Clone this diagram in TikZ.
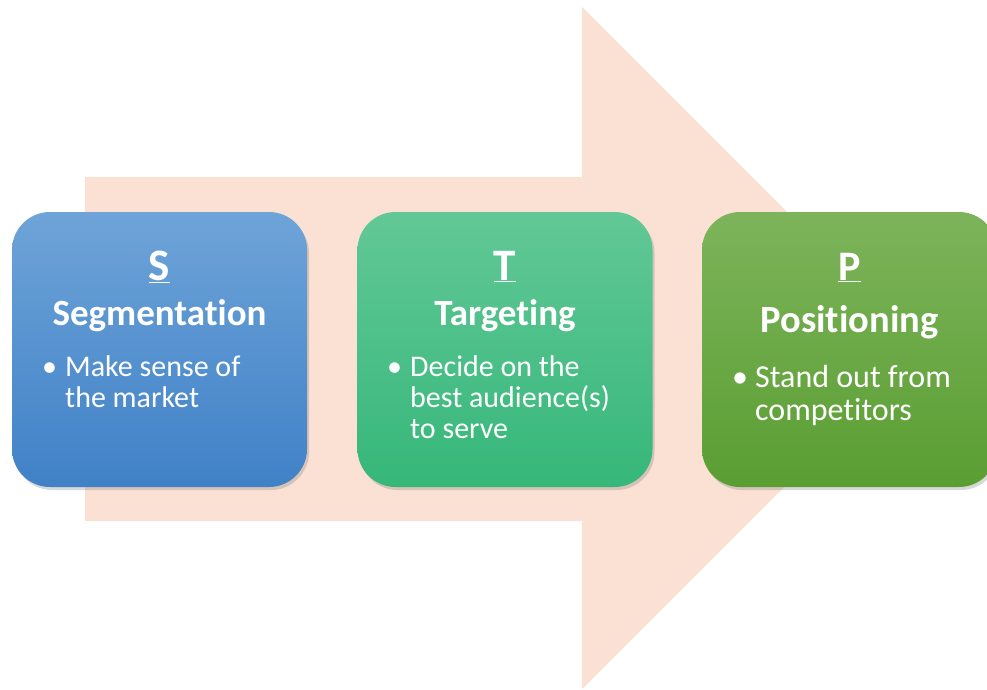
\documentclass[tikz,border=0pt]{standalone}
\usepackage{fontspec}
\setmainfont{Carlito}[Ligatures=NoCommon]
\usepackage{tikz}
\usetikzlibrary{shadows}

\definecolor{arrowpink}{RGB}{250,225,212}
\definecolor{segtop}{RGB}{110,164,216}
\definecolor{segbot}{RGB}{64,129,199}
\definecolor{tartop}{RGB}{98,200,150}
\definecolor{tarbot}{RGB}{54,183,122}
\definecolor{postop}{RGB}{125,180,91}
\definecolor{posbot}{RGB}{90,158,50}

\tikzset{
  stpbox/.style={rounded corners=38pt, minimum width=295pt, minimum height=275pt,
    drop shadow={shadow xshift=2pt, shadow yshift=-3pt, opacity=.3}},
  letter/.style={anchor=base, inner sep=0pt, text=white, font=\bfseries\fontsize{45}{45}\selectfont},
  title/.style={anchor=base, inner sep=0pt, text=white, font=\bfseries\fontsize{37}{37}\selectfont},
  bullet/.style={anchor=base west, inner sep=0pt, text=white, font=\fontsize{30}{31}\selectfont}
}
\newcommand{\bul}[1]{\parbox[t]{250pt}{\hangindent=23pt\hangafter=1%
  \makebox[23pt][l]{\textbullet}#1}}

\begin{document}
\begin{tikzpicture}[x=1pt,y=-1pt]
\clip (0,0) rectangle (987,689);
\fill[white] (0,0) rectangle (987,689);
% big arrow behind the boxes
\fill[arrowpink] (85,177) -- (582,177) -- (582,7) -- (923,348) -- (582,689)
  -- (582,521) -- (85,521) -- cycle;

% S
\node[stpbox, top color=segtop, bottom color=segbot] (seg) at (159.5,349.5) {};
\node[letter] (segl) at (159.5,280) {\underline{S}};
\node[title] (segt) at (159.5,325) {Segmentation};
\node[bullet] (segb) at (42,376) {\bul{Make sense of\\the market}};

% T
\node[stpbox, top color=tartop, bottom color=tarbot] (tar) at (505,349.5) {};
\node[letter] (tarl) at (505,280) {\underline{T}};
\node[title] (tart) at (505,325) {Targeting};
\node[bullet] (tarb) at (387,376) {\bul{Decide on the\\best audience(s)\\to serve}};

% P
\node[stpbox, top color=postop, bottom color=posbot] (pos) at (849.5,349.5) {};
\node[letter, font=\bfseries\fontsize{42}{42}\selectfont] (posl) at (849.5,280) {\underline{P}};
\node[title, font=\bfseries\fontsize{38.5}{38.5}\selectfont] (post) at (849.5,332) {Positioning};
\node[bullet, font=\fontsize{32}{33}\selectfont] (posb) at (732,387) {\bul{Stand out from\\competitors}};
\end{tikzpicture}
\end{document}
